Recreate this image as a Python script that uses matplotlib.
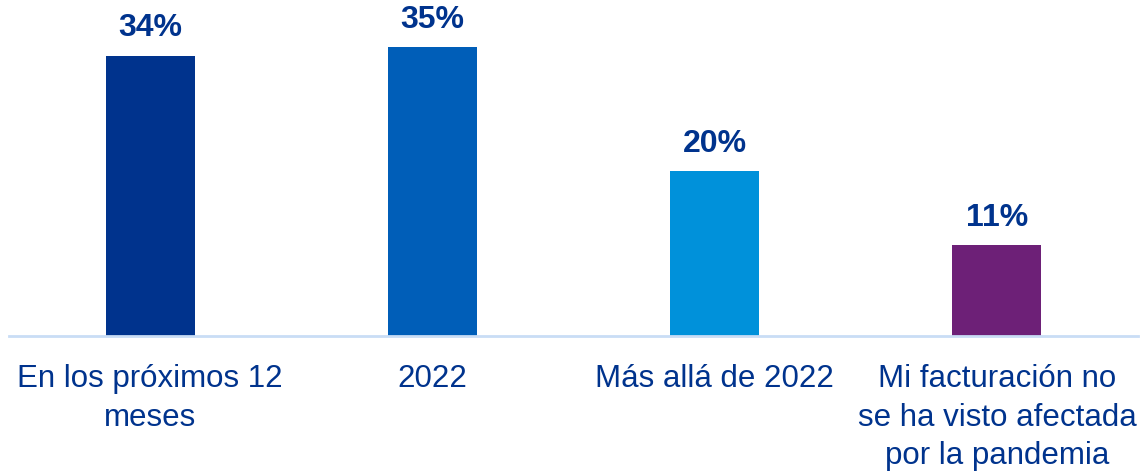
import matplotlib
matplotlib.use("Agg")
import matplotlib.pyplot as plt

categories = ["En los próximos 12\nmeses", "2022", "Más allá de 2022",
              "Mi facturación no\nse ha visto afectada\npor la pandemia"]
values = [34, 35, 20, 11]
colors = ["#00338D", "#005EB8", "#0091DA", "#6D2077"]
label_color = "#00338D"

plt.rcParams['font.family'] = ['Liberation Sans', 'DejaVu Sans']

fig = plt.figure(figsize=(11.43, 4.72), dpi=100)
ax = fig.add_axes([9/1143, 136/472, 1129/1143, 330/472])

x = list(range(len(categories)))
bars = ax.bar(x, values, width=0.315, color=colors, zorder=2)
ax.set_xlim(-0.5, 3.5)
ax.set_ylim(0, 40)

for xi, v in zip(x, values):
    ax.annotate(f"{v}%", xy=(xi, v), xytext=(0, 14), textcoords="offset points",
                ha="center", va="baseline", fontsize=23, fontweight="bold",
                color=label_color)

for s in ["top", "right", "left"]:
    ax.spines[s].set_visible(False)
ax.spines["bottom"].set_color("#c9ddf5")
ax.spines["bottom"].set_linewidth(2)
ax.set_yticks([])
ax.set_xticks(x)
ax.set_xticklabels(categories, fontsize=22.5, color=label_color, linespacing=1.38)
ax.tick_params(axis="x", length=0, pad=20)

fig.savefig("out.png", dpi=100)
